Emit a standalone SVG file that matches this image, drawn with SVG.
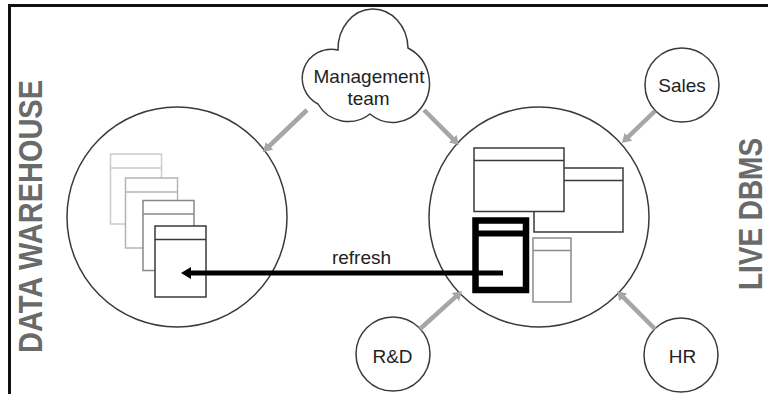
<svg xmlns="http://www.w3.org/2000/svg" width="768" height="394" viewBox="0 0 768 394">
  <style>
    .big { fill: #ffffff; stroke: #3a3a3a; stroke-width: 1.5; }
    .small { fill: #ffffff; stroke: #3a3a3a; stroke-width: 1.5; }
    .lbl { font-family: "Liberation Sans", Arial, sans-serif; font-size: 19px; fill: #222222; text-anchor: middle; }
    .vlbl { font-family: "Liberation Sans", Arial, sans-serif; font-size: 34px; font-weight: bold; fill: #6a6a6a; text-anchor: middle; }
    .doc { fill: #ffffff; stroke-width: 1.5; }
    .gline { stroke: #a6a6a6; stroke-width: 4.5; fill: none; }
  </style>
  <defs>
    <marker id="ga" markerUnits="userSpaceOnUse" markerWidth="10" markerHeight="11" refX="1" refY="5.5" orient="auto">
      <path d="M0,0 L9,5.5 L0,11 z" fill="#a6a6a6"/>
    </marker>
    <marker id="ba" markerUnits="userSpaceOnUse" markerWidth="11" markerHeight="12" refX="1" refY="6" orient="auto">
      <path d="M0,0 L10,6 L0,12 z" fill="#000000"/>
    </marker>
  </defs>
  <rect x="0" y="0" width="768" height="394" fill="#ffffff"/>

  <g id="frame" stroke="#111111" stroke-width="3" fill="none">
    <line x1="8" y1="5.5" x2="768" y2="5.5"/>
    <line x1="9.5" y1="4" x2="9.5" y2="394"/>
  </g>

  <g id="data-warehouse">
    <circle class="big" cx="177" cy="217" r="110"/>
    <g id="dw-tables">
      <rect class="doc" x="110.5" y="154" width="51" height="70" stroke="#cccccc"/>
      <line x1="110.5" y1="168" x2="161.5" y2="168" stroke="#cccccc" stroke-width="1.5"/>
      <rect class="doc" x="125.5" y="178" width="52" height="70" stroke="#b4b4b4"/>
      <line x1="125.5" y1="192" x2="177.5" y2="192" stroke="#b4b4b4" stroke-width="1.5"/>
      <rect class="doc" x="143" y="200.5" width="51" height="70" stroke="#888888"/>
      <line x1="143" y1="214" x2="194" y2="214" stroke="#888888" stroke-width="1.5"/>
      <rect class="doc" x="155" y="226" width="51" height="71" stroke="#3a3a3a"/>
      <line x1="155" y1="239.5" x2="206" y2="239.5" stroke="#3a3a3a" stroke-width="1.5"/>
    </g>
  </g>

  <g id="live-dbms">
    <circle class="big" cx="539" cy="217" r="110"/>
    <rect class="doc" x="534" y="168" width="89" height="64" stroke="#3a3a3a"/>
    <line x1="534" y1="180.5" x2="623" y2="180.5" stroke="#3a3a3a" stroke-width="1.5"/>
    <rect class="doc" x="474" y="148" width="90" height="63.5" stroke="#3a3a3a"/>
    <line x1="474" y1="160.5" x2="564" y2="160.5" stroke="#3a3a3a" stroke-width="1.5"/>
    <rect class="doc" x="533" y="238" width="38" height="64" stroke="#8a8a8a"/>
    <line x1="533" y1="250.5" x2="571" y2="250.5" stroke="#8a8a8a" stroke-width="1.5"/>
    <rect x="475.5" y="220.5" width="50.5" height="69.5" fill="#ffffff" stroke="#000000" stroke-width="6.5"/>
    <line x1="475.5" y1="233.5" x2="526" y2="233.5" stroke="#000000" stroke-width="6"/>
  </g>

  <g id="management-team">
    <path class="small" d="M338,50 A35 40 0 0 1 408,48 A40 40 0 0 1 421,108 A35 35 0 0 1 370,114 A35 35 0 0 1 318,104 A29 29 0 0 1 338,50 Z"/>
    <text class="lbl" x="369" y="83">Management</text>
    <text class="lbl" x="368.5" y="105">team</text>
  </g>

  <g id="sales">
    <circle class="small" cx="682" cy="85" r="37"/>
    <text class="lbl" x="682" y="91.5">Sales</text>
  </g>

  <g id="rnd">
    <circle class="small" cx="393" cy="354" r="37"/>
    <text class="lbl" x="392.5" y="362.5">R&amp;D</text>
  </g>

  <g id="hr">
    <circle class="small" cx="681" cy="355" r="37"/>
    <text class="lbl" x="682.5" y="362.5">HR</text>
  </g>

  <g id="side-labels">
    <text class="vlbl" transform="translate(42,216.5) rotate(-90)" textLength="273" lengthAdjust="spacingAndGlyphs">DATA WAREHOUSE</text>
    <text class="vlbl" transform="translate(762,214) rotate(-90)" textLength="152" lengthAdjust="spacingAndGlyphs">LIVE DBMS</text>
  </g>

  <g id="connectors">
    <line class="gline" x1="307" y1="110" x2="268.8" y2="146.5" marker-end="url(#ga)"/>
    <line class="gline" x1="424" y1="110" x2="453.3" y2="139.3" marker-end="url(#ga)"/>
    <line class="gline" x1="655" y1="111" x2="627.7" y2="137.4" marker-end="url(#ga)"/>
    <line class="gline" x1="420" y1="329" x2="456.1" y2="296.4" marker-end="url(#ga)"/>
    <line class="gline" x1="655" y1="329" x2="622.7" y2="296.7" marker-end="url(#ga)"/>
    <line x1="503" y1="273" x2="190" y2="273" stroke="#000000" stroke-width="5" marker-end="url(#ba)"/>
    <text class="lbl" x="361.5" y="264">refresh</text>
  </g>
</svg>
